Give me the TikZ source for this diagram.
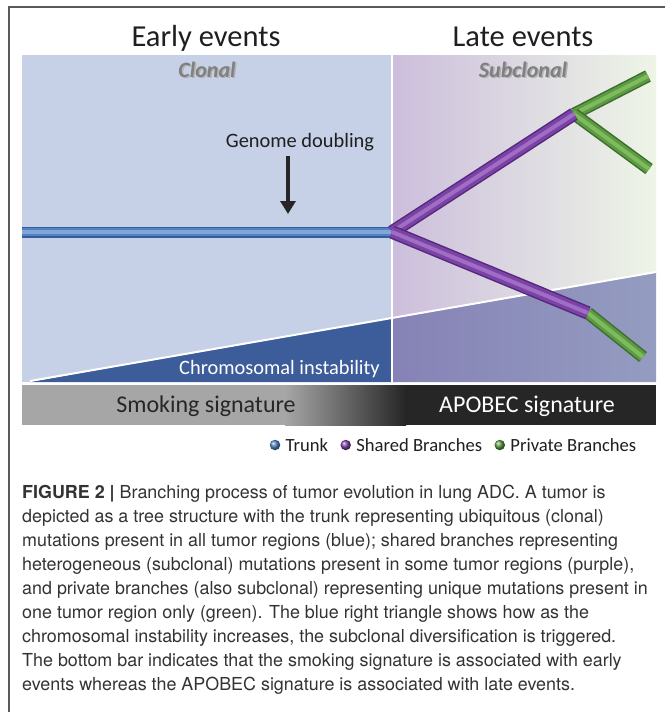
\documentclass[tikz,border=0pt]{standalone}
\usepackage{fontspec}
\setmainfont{Carlito}
\newfontfamily\capfont{TeX Gyre Heros}
\usetikzlibrary{positioning,arrows.meta,shadings}

\definecolor{earlybg}{HTML}{C6D0E6}
\definecolor{lavend}{HTML}{CCBEDC}
\definecolor{midgrey}{HTML}{E3E0E4}
\definecolor{palegreen}{HTML}{EEF5E7}
\definecolor{cinblue}{HTML}{3D5C9A}
\definecolor{latelowl}{HTML}{8682B6}
\definecolor{latelowr}{HTML}{949CC0}
\definecolor{smokegrey}{HTML}{A6A6A6}
\definecolor{apobecblack}{HTML}{262626}
\definecolor{trunkdk}{HTML}{365D9B}
\definecolor{trunkmid}{HTML}{5282C4}
\definecolor{trunkhi}{HTML}{82A6DA}
\definecolor{shareddk}{HTML}{55297C}
\definecolor{sharedmid}{HTML}{7D42A6}
\definecolor{sharedhi}{HTML}{9E6EC4}
\definecolor{privatedk}{HTML}{3D6E2E}
\definecolor{privatemid}{HTML}{5C9B42}
\definecolor{privatehi}{HTML}{80BA5E}
\definecolor{captext}{HTML}{333333}

\tikzset{
  trunktube/.style={line width=3.5pt, draw=trunkhi,
    preaction={draw=trunkdk, line width=11pt},
    preaction={draw=trunkmid, line width=8.5pt}},
  sharedtube/.style={line width=4pt, draw=sharedhi,
    preaction={draw=shareddk, line width=13.5pt},
    preaction={draw=sharedmid, line width=10.5pt}},
  privatetube/.style={line width=4pt, draw=privatehi,
    preaction={draw=privatedk, line width=12.5pt},
    preaction={draw=privatemid, line width=9.5pt}},
  title/.style={font=\fontsize{30.5}{36}\selectfont, text=black!88, anchor=base, inner sep=0},
  cloneltxt/.style={font=\fontsize{22}{26}\selectfont\bfseries\itshape, anchor=base, inner sep=0},
  labeltxt/.style={font=\fontsize{20.4}{24}\selectfont, anchor=base, inner sep=0},
  sigtxt/.style={font=\fontsize{24}{28}\selectfont, anchor=base, inner sep=0},
  legdot/.style={circle, inner sep=0, minimum size=10.5pt, shading=ball, ball color=#1},
  legtxt/.style={font=\fontsize{18.6}{22}\selectfont, text=black!88, inner sep=0},
  capline/.style={font=\capfont\fontsize{17.9}{22}\selectfont, text=captext, anchor=base west, inner sep=0}
}

\begin{document}
\begin{tikzpicture}[x=1pt,y=-1pt]
  \useasboundingbox (0,0) rectangle (665,712);
  \draw[black!65, line width=1.2pt] (9,712) -- (9,7) -- (665,7);

  % panels
  \fill[earlybg] (22,55) rectangle (392,382);
  \shade[left color=lavend, middle color=midgrey, right color=palegreen]
    (392,55) -- (656,55) -- (656,272) -- (392,318) -- cycle;
  \shade[left color=latelowl, right color=latelowr]
    (392,318) -- (656,272) -- (656,382) -- (392,382) -- cycle;
  \fill[cinblue] (30,382) -- (392,318) -- (392,382) -- cycle;
  \draw[white, line width=2pt] (30,381) -- (656,272);
  \draw[white, line width=2pt] (392,55) -- (392,382);

  % bottom bar
  \fill[smokegrey] (22,385) rectangle (286,425);
  \shade[left color=smokegrey, right color=apobecblack] (285,385) rectangle (406,425);
  \fill[apobecblack] (405,385) rectangle (656,425);

  % titles
  \node[title] (early) at (206,46) {Early events};
  \node[title] (late) at (523,46) {Late events};
  \node[cloneltxt, text=black!30] at (208.5,78.5) {Clonal};
  \node[cloneltxt, text=black!50] (clonal) at (207,77) {Clonal};
  \node[cloneltxt, text=black!30] at (524.5,78.5) {Subclonal};
  \node[cloneltxt, text=black!50] (subclonal) at (523,77) {Subclonal};

  % genome doubling
  \node[labeltxt, text=black!88] (gd) at (300,147) {Genome doubling};
  \coordinate (gdtail) at (288,156);
  \coordinate (gdtip) at (288,214);
  \draw[line width=4pt, black!85, -{Triangle[length=13pt,width=15pt]}] (gdtail) -- (gdtip);

  % tree
  \coordinate (root) at (22,232);
  \coordinate (fork) at (392,232);
  \coordinate (upfork) at (574,114);
  \coordinate (lowfork) at (588,313);
  \coordinate (upA) at (648,76);
  \coordinate (upB) at (649,169);
  \coordinate (lowA) at (643,357);
  \draw[trunktube] (root) -- (fork);
  \foreach \a/\b in {upfork/upA, upfork/upB, lowfork/lowA}
    \draw[privatetube] (\a) -- (\b);
  \foreach \b in {upfork, lowfork}
    \draw[sharedtube] (fork) -- (\b);

  \node[labeltxt, text=white, anchor=base east] (cin) at (380,374) {Chromosomal instability};
  \node[sigtxt, text=black!85] (smoke) at (206,412) {Smoking signature};
  \node[sigtxt, text=white] (apobec) at (527,412) {APOBEC signature};

  % legend
  \node[legdot=trunkmid] (dtrunk) at (275,445) {};
  \node[legtxt, right=5pt of dtrunk] (ltrunk) {Trunk};
  \node[legdot=sharedmid, right=12pt of ltrunk] (dshared) {};
  \node[legtxt, right=5pt of dshared] (lshared) {Shared Branches};
  \node[legdot=privatemid, right=12pt of lshared] (dprivate) {};
  \node[legtxt, right=5pt of dprivate] (lprivate) {Private Branches};

  % caption
  \node[capline] (c1) at (22,498) {\textbf{FIGURE 2 |} Branching process of tumor evolution in lung ADC. A tumor is};
  \node[capline] (c2) at (22,522) {depicted as a tree structure with the trunk representing ubiquitous (clonal)};
  \node[capline] (c3) at (22,546) {mutations present in all tumor regions (blue); shared branches representing};
  \node[capline] (c4) at (22,570) {heterogeneous (subclonal) mutations present in some tumor regions (purple),};
  \node[capline] (c5) at (22,594) {and private branches (also subclonal) representing unique mutations present in};
  \node[capline] (c6) at (22,618) {one tumor region only (green). The blue right triangle shows how as the};
  \node[capline] (c7) at (22,642) {chromosomal instability increases, the subclonal diversification is triggered.};
  \node[capline] (c8) at (22,666) {The bottom bar indicates that the smoking signature is associated with early};
  \node[capline] (c9) at (22,690) {events whereas the APOBEC signature is associated with late events.};
\end{tikzpicture}
\end{document}
